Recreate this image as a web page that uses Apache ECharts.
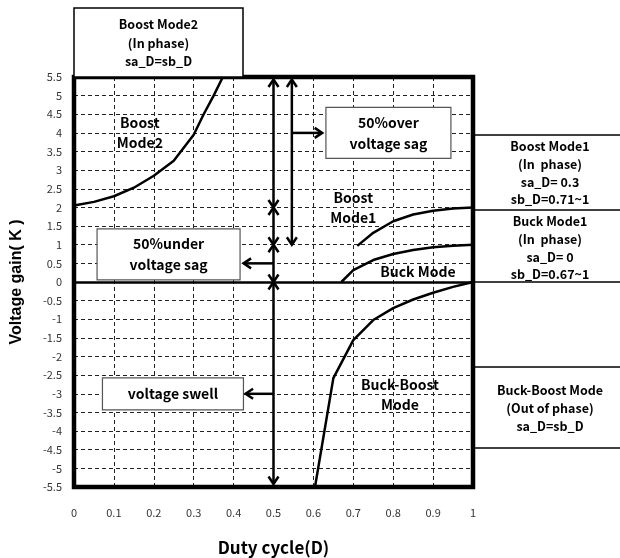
<!DOCTYPE html>
<html><head><meta charset="utf-8">
<script src="https://cdn.jsdelivr.net/npm/echarts@6/dist/echarts.min.js"></script>
<style>html,body{margin:0;padding:0;background:#fff}#c{width:620px;height:558px}</style>
</head><body><div id="c"></div>
<script>
// ---- data ----
const boostMode2D = [0, 0.05, 0.1, 0.15, 0.2, 0.25, 0.3, 0.325, 0.35, 0.373];
const boostMode2K = [2.05, 2.15, 2.3, 2.53, 2.85, 3.25, 3.95, 4.5, 5.0, 5.5];
const boostMode1D = [0.71, 0.75, 0.8, 0.85, 0.9, 0.95, 1.0];
const boostMode1K = [0.97, 1.32, 1.63, 1.81, 1.91, 1.97, 2.0];
const buckMode1D = [0.67, 0.7, 0.75, 0.8, 0.85, 0.9, 0.95, 1.0];
const buckMode1K = [0, 0.32, 0.59, 0.75, 0.86, 0.93, 0.97, 1.0];
const buckBoostD = [0.604, 0.65, 0.7, 0.75, 0.8, 0.85, 0.9, 0.95, 1.0];
const buckBoostK = [-5.5, -2.58, -1.56, -1.02, -0.7, -0.47, -0.29, -0.13, 0];
const xTicks = [0, 1, 0.1];      // min, max, interval
const yTicks = [-5.5, 5.5, 0.5]; // min, max, interval

// annotation anchors in data coordinates
const doubleArrows = [
  [[0.5, 5.5], [0.5, 2]],
  [[0.5, 2], [0.5, 1]],
  [[0.5, 1], [0.5, 0]],
  [[0.5, 0], [0.5, -5.5]],
  [[0.546, 5.5], [0.546, 1.0]]
];
const singleArrows = [
  [[0.546, 4.0], [0.622, 4.0]],
  [[0.5, 0.5], [0.425, 0.5]],
  [[0.5, -3.0], [0.43, -3.0]]
];
const plotLabels = [
  {text: 'Boost\nMode2', at: [0.165, 4.0]},
  {text: 'Boost\nMode1', at: [0.70, 2.0]},
  {text: 'Buck Mode', at: [0.862, 0.27]},
  {text: 'Buck-Boost\nMode', at: [0.817, -3.03]}
];
const plotBoxes = [
  {text: '50%over\nvoltage sag', at: [0.788, 4.0], w: 125, h: 51},
  {text: '50%under\nvoltage sag', at: [0.237, 0.74], w: 143, h: 51},
  {text: 'voltage swell', at: [0.248, -3.0], w: 141, h: 32}
];

const pairs = (xs, ys) => xs.map((x, i) => [x, ys[i]]);
const FONT = '"Noto Sans CJK KR", "Noto Sans", sans-serif';

const chart = echarts.init(document.getElementById('c'), null, {renderer: 'canvas'});
const lineSeries = (name, xs, ys) => ({
  name, type: 'line', data: pairs(xs, ys), showSymbol: false, symbol: 'none',
  lineStyle: {color: '#000', width: 2.5}, z: 5, silent: true
});

chart.setOption({
  animation: false,
  backgroundColor: '#fff',
  grid: {left: 74, right: 147, top: 77, bottom: 71, show: true, borderColor: '#000', borderWidth: 4.5, z: 10,
    containLabel: false, outerBoundsMode: 'none'},
  xAxis: {
    type: 'value', min: xTicks[0], max: xTicks[1], interval: xTicks[2],
    name: 'Duty cycle(D)', nameLocation: 'middle', nameGap: 52,
    nameTextStyle: {fontFamily: FONT, fontWeight: 'bold', fontSize: 17, color: '#000'},
    axisLine: {show: false}, axisTick: {show: false},
    axisLabel: {margin: 20, fontFamily: FONT, fontSize: 11, color: '#333'},
    splitLine: {show: true, lineStyle: {color: '#222', type: [4, 3], width: 1}}
  },
  yAxis: {
    type: 'value', min: yTicks[0], max: yTicks[1], interval: yTicks[2],
    name: 'Voltage gain( K )', nameLocation: 'middle', nameGap: 49, nameRotate: 90,
    nameTextStyle: {fontFamily: '"Liberation Sans", Arial, sans-serif', fontWeight: 'bold', fontSize: 16, color: '#000'},
    axisLine: {show: false}, axisTick: {show: false},
    axisLabel: {margin: 12, fontFamily: FONT, fontSize: 11, color: '#333'},
    splitLine: {show: true, lineStyle: {color: '#222', type: [4, 3], width: 1}}
  },
  series: [
    lineSeries('Boost Mode2', boostMode2D, boostMode2K),
    lineSeries('Boost Mode1', boostMode1D, boostMode1K),
    lineSeries('Buck Mode1', buckMode1D, buckMode1K),
    lineSeries('Buck-Boost', buckBoostD, buckBoostK),
    {
      type: 'line', data: [], silent: true,
      markLine: {silent: true, symbol: 'none', label: {show: false},
        lineStyle: {color: '#000', width: 2.5, type: 'solid'}, data: [{yAxis: 0}]}
    }
  ]
});

function px(p) { return chart.convertToPixel({gridIndex: 0}, p); }
const topPx = px([0, yTicks[1]])[1], botPx = px([0, yTicks[0]])[1];
function pxIn(p) {
  const q = px(p);
  q[1] = Math.min(Math.max(q[1], topPx + 2.5), botPx - 3);
  return q;
}
const g = [];
const AW = 2.5;
function chevron(tip, from) {
  const dx = tip[0] - from[0], dy = tip[1] - from[1];
  const L = Math.hypot(dx, dy) || 1;
  const ux = dx / L, uy = dy / L, nx = -uy, ny = ux;
  const len = 7.5, half = 5;
  g.push({type: 'polyline', z: 20, shape: {points: [
    [tip[0] - ux * len + nx * half, tip[1] - uy * len + ny * half],
    [tip[0], tip[1]],
    [tip[0] - ux * len - nx * half, tip[1] - uy * len - ny * half]]},
    style: {stroke: '#000', lineWidth: AW, fill: null}});
}
function shaft(a, b) {
  g.push({type: 'line', z: 20, shape: {x1: a[0], y1: a[1], x2: b[0], y2: b[1]},
    style: {stroke: '#000', lineWidth: AW}});
}
doubleArrows.forEach(([a, b]) => {
  const pa = pxIn(a), pb = pxIn(b);
  shaft(pa, pb); chevron(pa, pb); chevron(pb, pa);
});
singleArrows.forEach(([a, b]) => {
  const pa = px(a), pb = px(b);
  shaft(pa, pb); chevron(pb, pa);
});
plotLabels.forEach(l => {
  const p = px(l.at);
  g.push({type: 'text', z: 25, x: p[0], y: p[1], style: {text: l.text, fontFamily: FONT,
    fontWeight: 'bold', fontSize: 14, lineHeight: 20, fill: '#000', align: 'center', verticalAlign: 'middle'}});
});
plotBoxes.forEach(b => {
  const p = px(b.at);
  g.push({type: 'rect', z: 22, shape: {x: p[0] - b.w / 2, y: p[1] - b.h / 2, width: b.w, height: b.h},
    style: {fill: '#fff', stroke: '#555', lineWidth: 1.2}});
  g.push({type: 'text', z: 25, x: p[0], y: p[1], style: {text: b.text, fontFamily: FONT,
    fontWeight: 'bold', fontSize: 14, lineHeight: 21, fill: '#000', align: 'center', verticalAlign: 'middle'}});
});

// boxes outside the plot area
const topLeft = px([0, 5.5]);
const rightEdge = px([1, 0]);
g.push({type: 'rect', z: 22, shape: {x: topLeft[0], y: 8, width: 169, height: topLeft[1] - 8},
  style: {fill: '#fff', stroke: '#000', lineWidth: 1.5}});
g.push({type: 'text', z: 25, x: topLeft[0] + 84.5, y: 43, style: {text: 'Boost Mode2\n(In phase)\nsa_D=sb_D',
  fontFamily: FONT, fontWeight: 'bold', fontSize: 12.5, lineHeight: 18.5, fill: '#000', align: 'center', verticalAlign: 'middle'}});

const rx = rightEdge[0];
[135, 210, 367, 448].forEach(y => g.push({type: 'line', z: 22, shape: {x1: rx, y1: y, x2: 620, y2: y},
  style: {stroke: '#000', lineWidth: 1.5}}));
g.push({type: 'line', z: 22, shape: {x1: rx, y1: rightEdge[1], x2: 620, y2: rightEdge[1]},
  style: {stroke: '#000', lineWidth: 1.5}});
const rightTexts = [
  {t: 'Boost Mode1\n(In  phase)\nsa_D= 0.3\nsb_D=0.71~1', y: 173},
  {t: 'Buck Mode1\n(In  phase)\nsa_D= 0\nsb_D=0.67~1', y: 248},
  {t: 'Buck-Boost Mode\n(Out of phase)\nsa_D=sb_D', y: 408}
];
rightTexts.forEach(r => g.push({type: 'text', z: 25, x: 550, y: r.y, style: {text: r.t, fontFamily: FONT,
  fontWeight: 'bold', fontSize: 12.5, lineHeight: 17.8, fill: '#000', align: 'center', verticalAlign: 'middle'}}));

chart.setOption({graphic: g});
</script></body></html>
